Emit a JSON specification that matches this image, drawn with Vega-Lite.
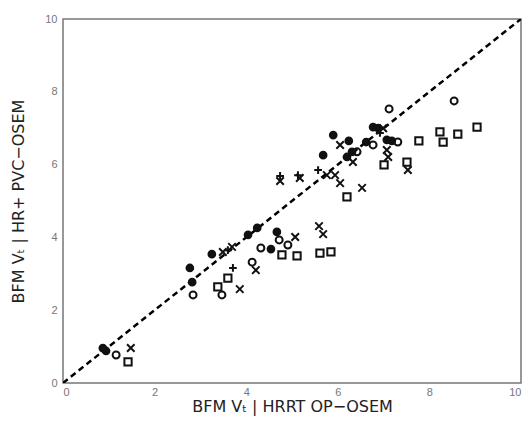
{
  "$schema": "https://vega.github.io/schema/vega-lite/v6.json",
  "autosize": "none",
  "width": 458,
  "height": 364,
  "padding": {"left": 63, "top": 19, "right": 6, "bottom": 41},
  "background": "white",
  "config": {
    "view": {"stroke": "#777777", "strokeWidth": 1.5},
    "font": "Liberation Sans"
  },
  "datasets": {
    "pts": [
      {"x": 0.87, "y": 0.96, "m": "dot"},
      {"x": 0.94, "y": 0.88, "m": "dot"},
      {"x": 1.16, "y": 0.77, "m": "circle"},
      {"x": 1.42, "y": 0.58, "m": "square"},
      {"x": 1.48, "y": 0.96, "m": "x"},
      {"x": 2.77, "y": 3.16, "m": "dot"},
      {"x": 2.82, "y": 2.77, "m": "dot"},
      {"x": 2.84, "y": 2.42, "m": "circle"},
      {"x": 3.25, "y": 3.54, "m": "dot"},
      {"x": 3.38, "y": 2.64, "m": "square"},
      {"x": 3.47, "y": 2.42, "m": "circle"},
      {"x": 3.49, "y": 3.6, "m": "x"},
      {"x": 3.6, "y": 3.65, "m": "plus"},
      {"x": 3.69, "y": 3.74, "m": "x"},
      {"x": 3.6, "y": 2.88, "m": "square"},
      {"x": 3.71, "y": 3.16, "m": "plus"},
      {"x": 3.86, "y": 2.58, "m": "x"},
      {"x": 4.04, "y": 4.07, "m": "dot"},
      {"x": 4.24, "y": 4.26, "m": "dot"},
      {"x": 4.13, "y": 3.32, "m": "circle"},
      {"x": 4.21, "y": 3.1, "m": "x"},
      {"x": 4.32, "y": 3.71, "m": "circle"},
      {"x": 4.54, "y": 3.68, "m": "dot"},
      {"x": 4.67, "y": 4.15, "m": "dot"},
      {"x": 4.72, "y": 3.93, "m": "circle"},
      {"x": 4.78, "y": 3.52, "m": "square"},
      {"x": 4.91, "y": 3.79, "m": "circle"},
      {"x": 5.07, "y": 4.01, "m": "x"},
      {"x": 5.11, "y": 3.49, "m": "square"},
      {"x": 5.59, "y": 4.31, "m": "x"},
      {"x": 5.68, "y": 4.09, "m": "x"},
      {"x": 5.61, "y": 3.57, "m": "square"},
      {"x": 5.85, "y": 3.6, "m": "square"},
      {"x": 4.74, "y": 5.69, "m": "plus"},
      {"x": 4.74, "y": 5.55, "m": "x"},
      {"x": 5.13, "y": 5.71, "m": "plus"},
      {"x": 5.17, "y": 5.63, "m": "x"},
      {"x": 5.57, "y": 5.85, "m": "plus"},
      {"x": 5.76, "y": 5.71, "m": "x"},
      {"x": 5.94, "y": 5.71, "m": "x"},
      {"x": 6.05, "y": 5.49, "m": "x"},
      {"x": 6.53, "y": 5.36, "m": "x"},
      {"x": 6.2, "y": 5.11, "m": "square"},
      {"x": 5.68, "y": 6.26, "m": "dot"},
      {"x": 5.9, "y": 6.81, "m": "dot"},
      {"x": 6.05, "y": 6.54, "m": "x"},
      {"x": 6.24, "y": 6.65, "m": "dot"},
      {"x": 6.2, "y": 6.21, "m": "dot"},
      {"x": 6.31, "y": 6.35, "m": "dot"},
      {"x": 6.42, "y": 6.35, "m": "circle"},
      {"x": 6.33, "y": 6.07, "m": "x"},
      {"x": 6.62, "y": 6.62, "m": "dot"},
      {"x": 6.77, "y": 6.54, "m": "circle"},
      {"x": 6.77, "y": 7.03, "m": "dot"},
      {"x": 6.88, "y": 7.0, "m": "dot"},
      {"x": 6.99, "y": 7.0, "m": "x"},
      {"x": 6.92, "y": 6.87, "m": "plus"},
      {"x": 7.07, "y": 6.68, "m": "dot"},
      {"x": 7.18, "y": 6.65, "m": "dot"},
      {"x": 7.31, "y": 6.62, "m": "circle"},
      {"x": 7.07, "y": 6.4, "m": "x"},
      {"x": 7.1, "y": 6.21, "m": "x"},
      {"x": 7.01, "y": 5.99, "m": "square"},
      {"x": 7.51, "y": 6.07, "m": "square"},
      {"x": 7.53, "y": 5.85, "m": "x"},
      {"x": 7.77, "y": 6.65, "m": "square"},
      {"x": 8.23, "y": 6.9, "m": "square"},
      {"x": 8.3, "y": 6.62, "m": "square"},
      {"x": 8.62, "y": 6.84, "m": "square"},
      {"x": 9.04, "y": 7.03, "m": "square"},
      {"x": 7.12, "y": 7.53, "m": "circle"},
      {"x": 8.54, "y": 7.75, "m": "circle"}
    ],
    "diag": [
      {"x": 0, "y": 0},
      {"x": 10, "y": 10}
    ]
  },
  "layer": [
    {
      "data": {"name": "diag"},
      "mark": {"type": "line", "color": "black", "strokeWidth": 2.5, "strokeDash": [6, 4], "clip": true},
      "encoding": {
        "x": {"field": "x", "type": "quantitative", "scale": {"domain": [0, 10], "nice": false}},
        "y": {"field": "y", "type": "quantitative", "scale": {"domain": [0, 10], "nice": false}}
      }
    },
    {
      "data": {"name": "pts"},
      "mark": {"type": "point", "strokeWidth": 2, "stroke": "#111111", "opacity": 1},
      "encoding": {
        "x": {
          "field": "x", "type": "quantitative",
          "scale": {"domain": [0, 10], "nice": false},
          "axis": {
            "values": [0, 2, 4, 6, 8, 10], "grid": false, "domain": false, "ticks": false,
            "labelPadding": 3, "labelFontSize": 11, "labelColor": "#777777", "labelFont": "Liberation Sans",
            "title": "BFM Vₜ | HRRT OP−OSEM", "titleFontSize": 16, "titleFontWeight": "normal",
            "titleColor": "#222222", "titlePadding": 1, "titleFont": "DejaVu Sans"
          }
        },
        "y": {
          "field": "y", "type": "quantitative",
          "scale": {"domain": [0, 10], "nice": false},
          "axis": {
            "values": [0, 2, 4, 6, 8, 10], "grid": false, "domain": false, "ticks": false,
            "labelPadding": 6, "labelFontSize": 11, "labelColor": "#777777", "labelFont": "Liberation Sans",
            "title": "BFM Vₜ | HR+ PVC−OSEM", "titleFontSize": 16, "titleFontWeight": "normal",
            "titleColor": "#222222", "titlePadding": 18, "titleFont": "DejaVu Sans"
          }
        },
        "shape": {
          "field": "m", "type": "nominal", "legend": null,
          "scale": {
            "domain": ["dot", "circle", "square", "x", "plus"],
            "range": ["circle", "circle", "square", "M-1,-1L1,1M-1,1L1,-1", "M-1,0L1,0M0,-1L0,1"]
          }
        },
        "size": {
          "field": "m", "type": "nominal", "legend": null,
          "scale": {
            "domain": ["dot", "circle", "square", "x", "plus"],
            "range": [45, 60, 55, 36, 49]
          }
        },
        "fill": {
          "condition": {"test": "datum.m === 'dot'", "value": "#111111"},
          "value": "transparent"
        }
      }
    }
  ]
}
